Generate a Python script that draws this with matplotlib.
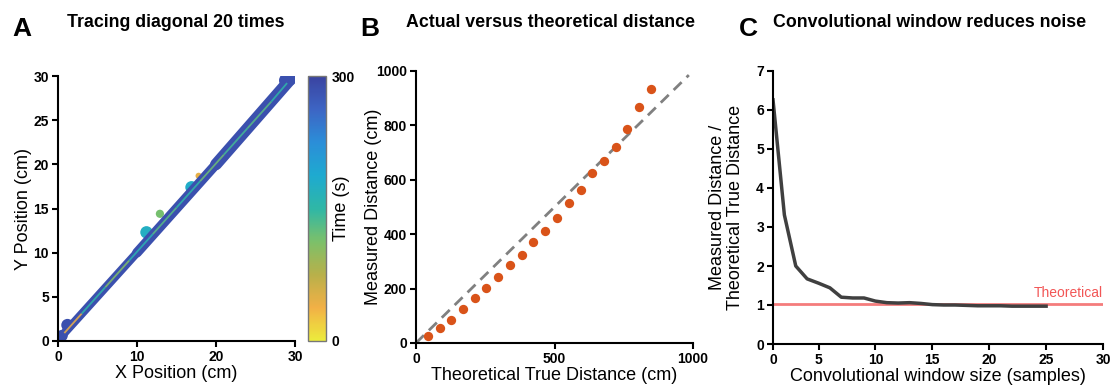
import numpy as np
import matplotlib
matplotlib.use("Agg")
import matplotlib.pyplot as plt
from matplotlib.colors import LinearSegmentedColormap
from matplotlib.collections import LineCollection

plt.rcParams['font.family'] = ['Liberation Sans', 'DejaVu Sans']

# --- panel A: diagonal tracing ---
band_x = [0.3, 10.0, 20.0, 29.2]
band_y = [0.4, 10.0, 20.0, 29.4]
band_t = [285, 285, 285, 285]
centre_x = [0.8, 3.0, 6.0, 9.0, 12.0, 15.0, 18.0, 21.0, 24.0, 27.0, 29.0]
centre_y = [0.9, 3.1, 6.1, 9.1, 12.1, 15.1, 18.1, 21.1, 24.1, 27.1, 29.2]
centre_t = [40, 150, 110, 160, 130, 150, 120, 140, 130, 150, 60]
blob_x = [11.2, 12.9, 16.9, 17.8, 0.5, 1.2, 28.9, 29.3]
blob_y = [12.3, 14.4, 17.4, 18.7, 0.6, 1.8, 29.5, 29.7]
blob_t = [175, 115, 180, 45, 285, 285, 285, 285]

# --- panel B: measured vs theoretical distance ---
theo_dist = [42, 85, 127, 170, 212, 254, 297, 339, 382, 424,
             466, 509, 551, 594, 636, 678, 721, 763, 806, 848]
meas_dist = [25, 54, 83, 125, 167, 204, 243, 287, 325, 371,
             411, 459, 513, 563, 624, 669, 721, 785, 867, 933]
unity_x = [0, 985]

# --- panel C: convolutional window ---
win_size = list(range(1, 26))
ratio = [6.26, 3.31, 2.00, 1.67, 1.56, 1.44, 1.20, 1.18, 1.18, 1.10,
         1.06, 1.05, 1.06, 1.04, 1.01, 1.00, 1.00, 0.99, 0.98, 0.98,
         0.98, 0.97, 0.97, 0.97, 0.97]
theoretical = 1.02

# parula-like, yellow at 0 and dark blue at 300
parula_r = LinearSegmentedColormap.from_list('parula_r', [
    '#ecec3c', '#f2b046', '#b8b04a', '#7cc06a', '#2fb7a6',
    '#1eaad0', '#2b8ed8', '#3d65c4', '#3a43a0'])
norm = plt.Normalize(0, 300)

fig = plt.figure(figsize=(11.11, 3.87), dpi=100)
W, H = 1111, 387


def box(l, t, r, b):
    return [l / W, 1 - b / H, (r - l) / W, (b - t) / H]


def style(ax):
    for s in ['top', 'right']:
        ax.spines[s].set_visible(False)
    for s in ['left', 'bottom']:
        ax.spines[s].set_linewidth(1.5)
    ax.tick_params(direction='out', length=4, width=1.5, labelsize=10, pad=2.5)
    for lab in ax.get_xticklabels() + ax.get_yticklabels():
        lab.set_fontweight('bold')


# A
axA = fig.add_axes(box(58, 76, 295, 341))
axA.scatter(blob_x, blob_y, c=blob_t, cmap=parula_r, norm=norm,
            s=[80, 35, 80, 20, 70, 80, 110, 110], marker='o', zorder=1,
            linewidths=0)
pts = np.column_stack([band_x, band_y])
segs = np.stack([pts[:-1], pts[1:]], axis=1)
axA.add_collection(LineCollection(segs, colors=parula_r(norm(band_t[:-1])),
                                  linewidths=[6, 7, 8.5], capstyle='round',
                                  zorder=2))
cp = np.column_stack([centre_x, centre_y])
csegs = np.stack([cp[:-1], cp[1:]], axis=1)
axA.add_collection(LineCollection(csegs, colors=parula_r(norm(centre_t[:-1])),
                                  linewidths=1.3, alpha=0.85, zorder=3))
axA.set_xlim(0, 30)
axA.set_ylim(0, 30)
axA.set_xticks([0, 10, 20, 30])
axA.set_yticks([0, 5, 10, 15, 20, 25, 30])
axA.set_xlabel('X Position (cm)', fontsize=13, labelpad=1)
axA.set_ylabel('Y Position (cm)', fontsize=13, labelpad=1)
style(axA)

cax = fig.add_axes(box(308, 76, 326, 341))
sm = plt.cm.ScalarMappable(norm=norm, cmap=parula_r)
cb = fig.colorbar(sm, cax=cax, ticks=[0, 300])
cb.outline.set_edgecolor('#777777')
cb.outline.set_linewidth(1)
cax.tick_params(length=0, labelsize=10, pad=4)
for lab in cax.get_yticklabels():
    lab.set_fontweight('bold')
cax.set_ylabel('Time (s)', fontsize=13, labelpad=-16)

# B
axB = fig.add_axes(box(416, 71, 693, 343))
axB.plot(unity_x, unity_x, ls=(0, (4, 2.5)), color='#808080', lw=2, zorder=1)
axB.scatter(theo_dist, meas_dist, s=45, color='#D95319', zorder=2, linewidths=0)
axB.set_xlim(0, 1000)
axB.set_ylim(0, 1000)
axB.set_xticks([0, 500, 1000])
axB.set_yticks([0, 200, 400, 600, 800, 1000])
axB.set_xlabel('Theoretical True Distance (cm)', fontsize=13, labelpad=1)
axB.set_ylabel('Measured Distance (cm)', fontsize=13, labelpad=-4)
style(axB)

# C
axC = fig.add_axes(box(773, 71, 1103, 344))
axC.plot([1, 30], [theoretical, theoretical], color='#F47C7C', lw=2, zorder=1)
axC.plot(win_size, ratio, color='#404040', lw=2.5, zorder=2)
axC.text(30, theoretical + 0.12, 'Theoretical', color='#F25656',
         fontsize=10, ha='right', va='bottom')
axC.set_xlim(1, 30)
axC.set_ylim(0, 7)
axC.set_xticks([1, 5, 10, 15, 20, 25, 30])
axC.set_xticklabels(['0', '5', '10', '15', '20', '25', '30'])
axC.set_yticks(range(8))
axC.set_xlabel('Convolutional window size (samples)', fontsize=13, labelpad=1)
axC.set_ylabel('Measured Distance /\nTheoretical True Distance', fontsize=13,
               labelpad=9, linespacing=1.05)
style(axC)

# panel letters and titles
for x, letter in [(12, 'A'), (360, 'B'), (739, 'C')]:
    fig.text(x / W, 1 - 36 / H, letter, fontsize=19, fontweight='bold',
             va='baseline')
for x, title in [(176, 'Tracing diagonal 20 times'),
                 (550, 'Actual versus theoretical distance'),
                 (930, 'Convolutional window reduces noise')]:
    fig.text(x / W, 1 - 27 / H, title, fontsize=12.8, fontweight='bold',
             ha='center', va='baseline')

fig.savefig('out.png', dpi=100)
